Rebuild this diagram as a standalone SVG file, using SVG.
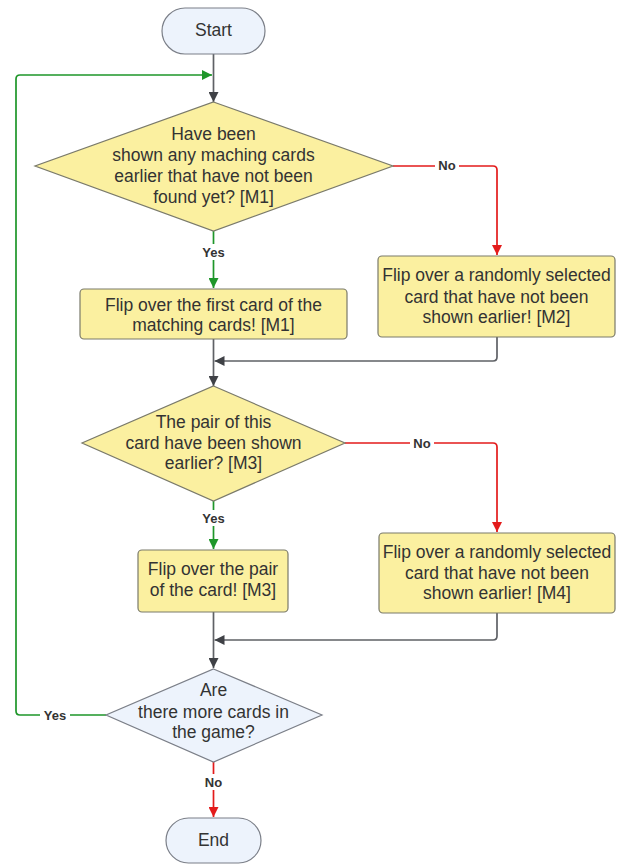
<svg xmlns="http://www.w3.org/2000/svg" width="622" height="866" viewBox="0 0 622 866">
<style>
.bg{fill:#ffffff}
.proc{fill:#FBF0A0;stroke:#7a7a6a;stroke-width:1.2}
.dec{fill:#FBF0A0;stroke:#7a7a6a;stroke-width:1.2}
.term{fill:#EDF3FC;stroke:#7b7f88;stroke-width:1.2}
.t{font-family:"Liberation Sans",Arial,sans-serif;font-size:17.5px;fill:#333333;text-anchor:middle}
.lbl{font-family:"Liberation Sans",Arial,sans-serif;font-size:13px;font-weight:bold;fill:#333333;text-anchor:middle}
.lblbg{fill:#ffffff}
.c{fill:none;stroke-width:1.7}
.gray{stroke:#5f6166}
.green{stroke:#1E962A}
.red{stroke:#E31B1B}
</style>
<defs>
<marker id="ag" viewBox="0 0 10 10" refX="10" refY="5" markerWidth="10" markerHeight="10" markerUnits="userSpaceOnUse" orient="auto"><path d="M0,0 L10,5 L0,10 Z" fill="#3f4146"/></marker>
<marker id="agr" viewBox="0 0 10 10" refX="10" refY="5" markerWidth="10" markerHeight="10" markerUnits="userSpaceOnUse" orient="auto"><path d="M0,0 L10,5 L0,10 Z" fill="#1E962A"/></marker>
<marker id="ar" viewBox="0 0 10 10" refX="10" refY="5" markerWidth="10" markerHeight="10" markerUnits="userSpaceOnUse" orient="auto"><path d="M0,0 L10,5 L0,10 Z" fill="#E31B1B"/></marker>
</defs>
<rect class="bg" x="0" y="0" width="622" height="866"/>

<g id="connectors">
<path class="c gray" d="M213.5,54 V102" marker-end="url(#ag)"/>
<path class="c green" d="M106,715 H20 Q16,715 16,711 V79 Q16,75 20,75 H212" marker-end="url(#agr)"/>
<path class="c green" d="M213.5,231 V288" marker-end="url(#agr)"/>
<path class="c red" d="M393,166 H493 Q497,166 497,170 V255" marker-end="url(#ar)"/>
<path class="c gray" d="M213.5,339 V386" marker-end="url(#ag)"/>
<path class="c gray" d="M497,337 V357 Q497,361 493,361 H214.5" marker-end="url(#ag)"/>
<path class="c green" d="M213.5,501 V549" marker-end="url(#agr)"/>
<path class="c red" d="M345,443 H493 Q497,443 497,447 V532" marker-end="url(#ar)"/>
<path class="c gray" d="M213.5,612 V668" marker-end="url(#ag)"/>
<path class="c gray" d="M497,613 V636 Q497,640 493,640 H214.5" marker-end="url(#ag)"/>
<path class="c red" d="M213.5,762 V817" marker-end="url(#ar)"/>
<rect class="lblbg" x="199" y="244" width="29" height="16"/>
<text class="lbl" x="213.5" y="257">Yes</text>
<rect class="lblbg" x="199" y="510" width="29" height="16"/>
<text class="lbl" x="213.5" y="523">Yes</text>
<rect class="lblbg" x="435" y="157" width="24" height="16"/>
<text class="lbl" x="447" y="170">No</text>
<rect class="lblbg" x="410" y="435" width="24" height="16"/>
<text class="lbl" x="422" y="448">No</text>
<rect class="lblbg" x="40" y="707" width="30" height="16"/>
<text class="lbl" x="55" y="720">Yes</text>
<rect class="lblbg" x="201" y="774" width="25" height="16"/>
<text class="lbl" x="213.5" y="787">No</text>
</g>

<g id="start">
<rect class="term" x="162" y="8" width="103" height="46" rx="23" ry="23"/>
<text class="t" x="213.5" y="36">Start</text>
</g>

<g id="decision1">
<polygon class="dec" points="213.5,102 393,166 213.5,231 35,166"/>
<text class="t" x="213.5" y="140">Have been</text>
<text class="t" x="213.5" y="161">shown any maching cards</text>
<text class="t" x="213.5" y="182">earlier that have not been</text>
<text class="t" x="213.5" y="203">found yet? [M1]</text>
</g>

<g id="box1">
<rect class="proc" x="80" y="289" width="267" height="50" rx="4"/>
<text class="t" x="213.5" y="311">Flip over the first card of the</text>
<text class="t" x="213.5" y="331">matching cards! [M1]</text>
</g>

<g id="box2">
<rect class="proc" x="378" y="256" width="237" height="81" rx="4"/>
<text class="t" x="496.5" y="281">Flip over a randomly selected</text>
<text class="t" x="496.5" y="303">card that have not been</text>
<text class="t" x="496.5" y="323">shown earlier! [M2]</text>
</g>

<g id="decision2">
<polygon class="dec" points="213.5,386 345,443 213.5,501 82,443"/>
<text class="t" x="213.5" y="428">The pair of this</text>
<text class="t" x="213.5" y="449">card have been shown</text>
<text class="t" x="213.5" y="469">earlier? [M3]</text>
</g>

<g id="box3">
<rect class="proc" x="138" y="550" width="150" height="62" rx="4"/>
<text class="t" x="213" y="575">Flip over the pair</text>
<text class="t" x="213" y="596">of the card! [M3]</text>
</g>

<g id="box4">
<rect class="proc" x="379" y="533" width="236" height="80" rx="4"/>
<text class="t" x="497" y="558">Flip over a randomly selected</text>
<text class="t" x="497" y="579">card that have not been</text>
<text class="t" x="497" y="599">shown earlier! [M4]</text>
</g>

<g id="decision3">
<polygon class="term" points="213.5,669 322,715 213.5,762 106,715"/>
<text class="t" x="213.5" y="696">Are</text>
<text class="t" x="213.5" y="718">there more cards in</text>
<text class="t" x="213.5" y="738">the game?</text>
</g>

<g id="end">
<rect class="term" x="166" y="818" width="95" height="45" rx="22.5" ry="22.5"/>
<text class="t" x="213.5" y="846">End</text>
</g>
</svg>
